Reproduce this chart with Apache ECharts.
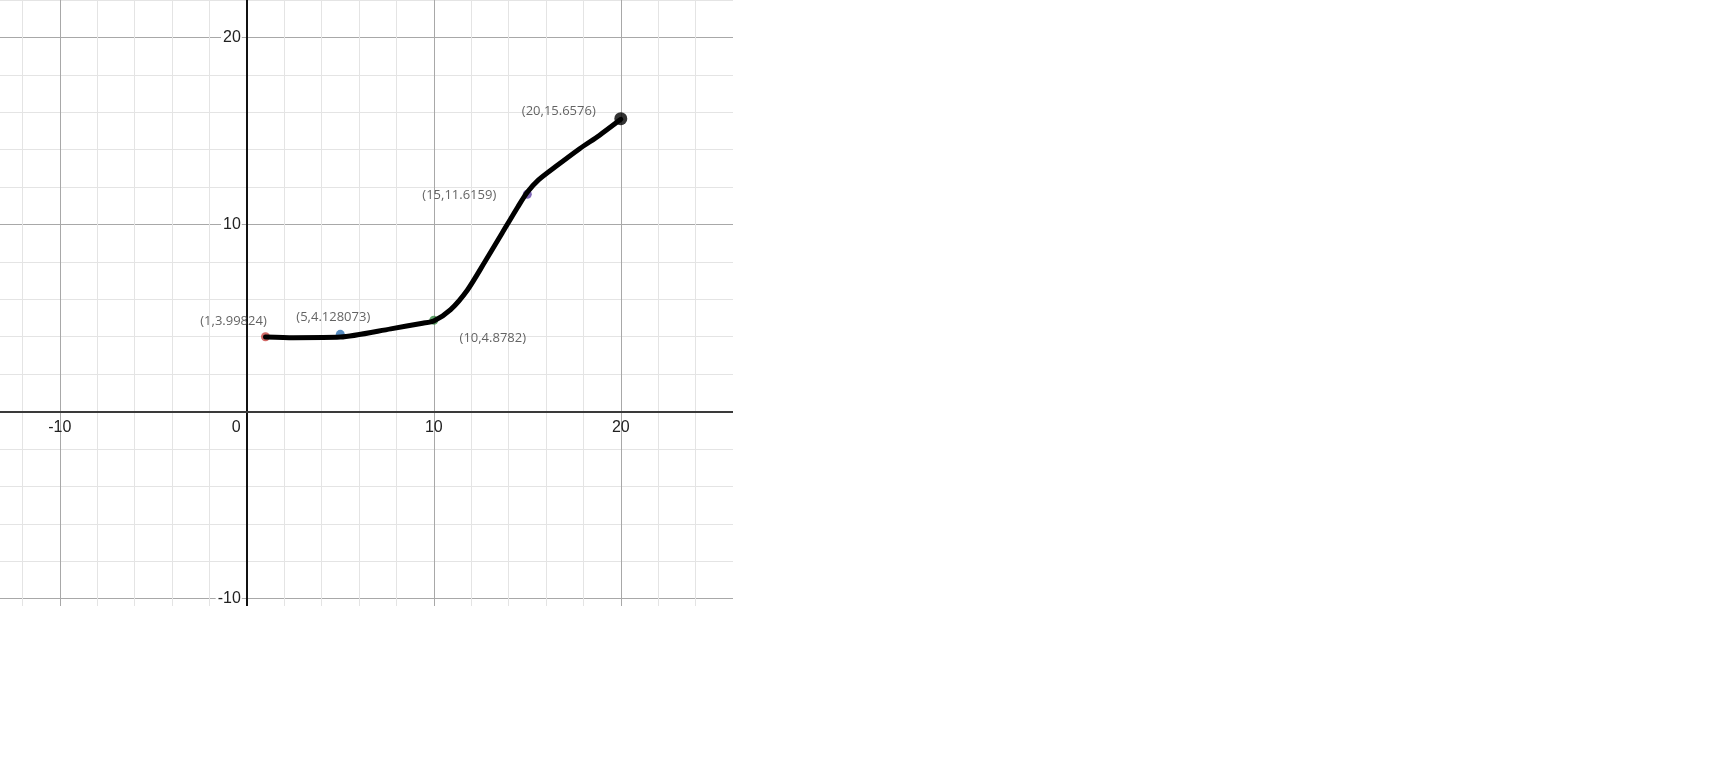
<!DOCTYPE html>
<html><head><meta charset="utf-8">
<script src="https://cdn.jsdelivr.net/npm/echarts@6/dist/echarts.min.js"></script>
<style>
html,body{margin:0;padding:0;background:#fff;width:1711px;height:779px;overflow:hidden}
#clip{position:absolute;left:0;top:0;width:733px;height:606px;overflow:hidden}
#chart{position:absolute;left:-15px;top:0;width:748px;height:636px}
</style></head><body>
<div id="clip"><div id="chart"></div></div>
<script>
// Marked points
const pointX = [1, 5, 10, 15, 20];
const pointY = [3.99824, 4.128073, 4.8782, 11.6159, 15.6576];
// Hand-drawn curve
const curveX = [1.0, 2.5, 5.0, 7.7, 9.4, 10.0, 10.9, 11.8, 12.7, 13.6, 14.5, 15.0, 15.6, 16.5, 17.8, 18.85, 20.0];
const curveY = [3.99, 3.95, 3.98, 4.42, 4.72, 4.84, 5.45, 6.5, 7.95, 9.45, 10.95, 11.72, 12.38, 13.08, 14.05, 14.76, 15.62];
// Tick labels shown
const xTickLabels = [-10, 0, 10, 20];
const yTickLabels = [-10, 10, 20];

const pointColors = ['#c74440', '#2d70b3', '#388c46', '#6042a6', '#000000'];
const labelOffsets = [[-32, -15], [-7, -17], [59, 18], [-68, 1], [-62, -7]];
const minor = '#e4e4e4', major = '#a8a8a8';

const chart = echarts.init(document.getElementById('chart'), null, {renderer: 'canvas'});
const labelFont = {fontFamily: 'Liberation Sans', fontSize: 16, color: '#222'};

const option = {
  animation: false,
  backgroundColor: '#fff',
  grid: {left: 0, right: 0, top: 0, bottom: 0, containLabel: false, outerBoundsMode: 'none'},
  xAxis: {
    type: 'value', min: -14, max: 26, interval: 2,
    axisLine: {onZero: false, lineStyle: {color: '#3a3a3a', width: 2}},
    axisTick: {show: false},
    splitLine: {show: true, lineStyle: {color: [minor, minor, major, minor, minor], width: 1}},
    axisLabel: Object.assign({
      margin: 8,
      formatter: v => v === 0 ? '{z|0}' : (xTickLabels.includes(v) ? String(v) : ''),
      rich: {z: Object.assign({padding: [0, 21, 0, 0]}, labelFont)}
    }, labelFont)
  },
  yAxis: {
    type: 'value', min: -12, max: 22, interval: 2,
    axisLine: {onZero: false, lineStyle: {color: '#111', width: 2}},
    axisTick: {show: false},
    splitLine: {show: true, lineStyle: {color: [minor, major, minor, minor, minor], width: 1}},
    axisLabel: Object.assign({
      margin: 5,
      backgroundColor: '#fff',
      padding: [0, 1, 0, 2],
      formatter: v => yTickLabels.includes(v) ? String(v) : ''
    }, labelFont)
  },
  series: [
    {
      type: 'scatter', z: 3,
      data: pointX.slice(0, 4).map((x, i) => ({
        value: [x, pointY[i]],
        itemStyle: {color: pointColors[i]},
        label: {show: true, position: 'inside', offset: labelOffsets[i],
          formatter: `(${x},${pointY[i]})`, fontFamily: 'Open Sans', fontSize: 13, color: '#3c3c3c'}
      })),
      symbolSize: 9
    },
    {
      type: 'line', z: 4,
      data: curveX.map((x, i) => [x, curveY[i]]),
      smooth: 0.25, showSymbol: false, symbol: 'none',
      lineStyle: {color: '#000', width: 5, cap: 'round', join: 'round'}
    },
    {
      type: 'scatter', z: 5,
      data: [{
        value: [pointX[4], pointY[4]],
        itemStyle: {color: pointColors[4]},
        label: {show: true, position: 'inside', offset: labelOffsets[4],
          formatter: `(${pointX[4]},${pointY[4]})`, fontFamily: 'Open Sans', fontSize: 13, color: '#3c3c3c'}
      }],
      symbolSize: 13
    }
  ]
};
chart.setOption(option);
// Move both axes (line + labels) onto the origin, using the library's own scales
const origin = chart.convertToPixel({gridIndex: 0}, [0, 0]);
const H = chart.getHeight();
chart.setOption({
  xAxis: {offset: -(H - origin[1])},
  yAxis: {offset: -origin[0]}
});
</script>
</body></html>
